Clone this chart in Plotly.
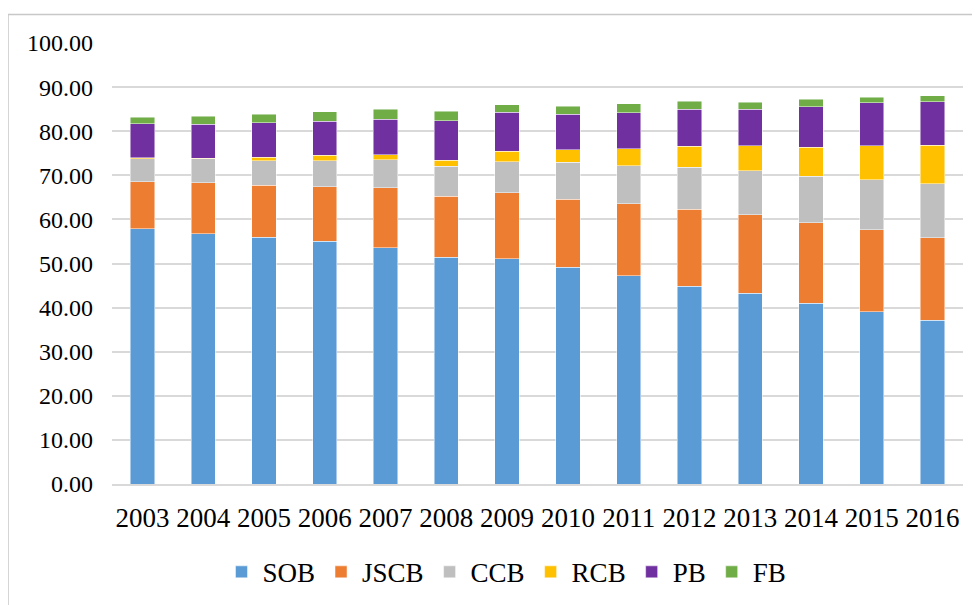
import plotly.graph_objects as go

years = ["2003", "2004", "2005", "2006", "2007", "2008", "2009", "2010",
         "2011", "2012", "2013", "2014", "2015", "2016"]
sob = [57.9, 56.8, 55.9, 55.0, 53.6, 51.4, 51.1, 49.1, 47.2, 44.8, 43.2, 41.0, 39.1, 37.1]
jscb = [10.6, 11.5, 11.9, 12.4, 13.6, 13.9, 14.9, 15.5, 16.3, 17.5, 17.8, 18.2, 18.5, 18.7]
ccb = [5.3, 5.4, 5.5, 5.9, 6.3, 6.8, 7.1, 8.4, 8.7, 9.5, 10.0, 10.6, 11.4, 12.3]
rcb = [0.2, 0.2, 0.8, 1.2, 1.2, 1.3, 2.4, 2.8, 3.8, 4.8, 5.7, 6.6, 7.7, 8.7]
pb = [7.7, 7.7, 7.8, 7.8, 8.0, 9.0, 8.8, 8.1, 8.2, 8.35, 8.25, 9.2, 9.7, 9.9]
fb = [1.5, 1.8, 1.9, 2.1, 2.3, 2.1, 1.7, 1.8, 2.0, 1.85, 1.65, 1.7, 1.3, 1.3]
y_ticks = [0, 10, 20, 30, 40, 50, 60, 70, 80, 90, 100]

series = [
    ("SOB", sob, "#5B9BD5"),
    ("JSCB", jscb, "#ED7D31"),
    ("CCB", ccb, "#BFBFBF"),
    ("RCB", rcb, "#FFC000"),
    ("PB", pb, "#7030A0"),
    ("FB", fb, "#70AD47"),
]

FONT = "Liberation Serif, Times New Roman, serif"

fig = go.Figure()
for name, vals, color in series:
    fig.add_trace(go.Bar(
        x=years, y=vals, name=name,
        marker=dict(color=color, line=dict(color="rgba(255,255,255,0.6)", width=0.8)),
    ))

# page body adds an 8px offset; work in screen pixels and subtract it
OFF = 8
W, H = 980, 605
scr_left, scr_right, scr_top, scr_bottom = 112, 963, 42.5, 484.5
L = scr_left - OFF
T = scr_top - OFF
R = W - (scr_right - OFF)
B = H - (scr_bottom - OFF)
pw = W - L - R
ph = H - T - B

def px_x(p):
    return (p - OFF - L) / pw

def px_y(p):
    return (H - B - (p - OFF)) / ph

fig.update_layout(
    width=W, height=H,
    barmode="stack",
    bargap=0.6,
    plot_bgcolor="white",
    paper_bgcolor="white",
    margin=dict(l=L, r=R, t=T, b=B, autoexpand=False),
    font=dict(family=FONT, color="black"),
    showlegend=True,
    legend=dict(
        orientation="h",
        x=px_x(506), xanchor="center",
        y=px_y(573), yanchor="middle",
        font=dict(size=27, family=FONT, color="black"),
        traceorder="normal",
        itemwidth=32,
        itemclick=False,
    ),
    xaxis=dict(
        showgrid=False,
        showline=True,
        linecolor="#D9D9D9",
        linewidth=1.5,
        tickfont=dict(size=27, family=FONT, color="black"),
        ticks="",
        ticklabelstandoff=9,
        fixedrange=True,
    ),
    yaxis=dict(
        range=[0, 100],
        tickvals=y_ticks,
        ticktext=[f"{v:.2f}" for v in y_ticks],
        showgrid=True,
        gridcolor="#D9D9D9",
        gridwidth=1.5,
        zeroline=False,
        showline=False,
        tickfont=dict(size=24, family=FONT, color="black"),
        ticks="",
        ticklabelstandoff=18,
        fixedrange=True,
    ),
    shapes=[dict(
        type="rect", xref="paper", yref="paper",
        x0=px_x(8), x1=px_x(1000), y0=px_y(625), y1=px_y(14),
        line=dict(color="#C8C8C8", width=1.5),
        fillcolor="rgba(0,0,0,0)",
        layer="below",
    )],
)

fig.write_html("out.html")
